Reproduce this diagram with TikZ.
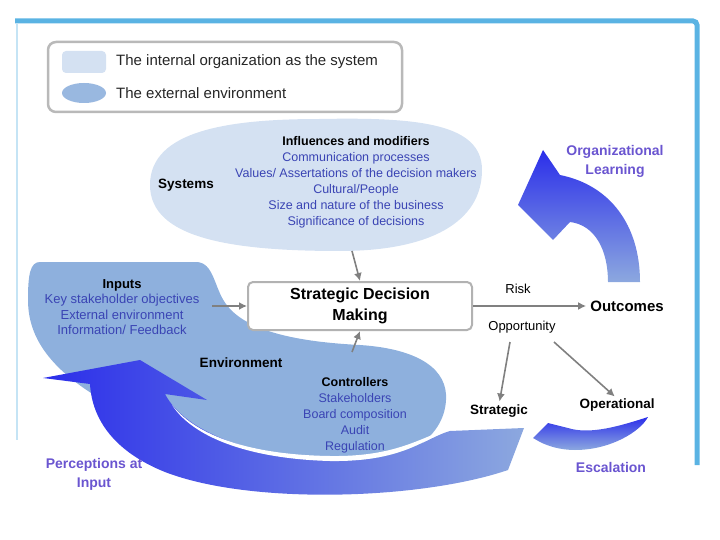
\documentclass[tikz,border=0pt]{standalone}
\usepackage{fontspec}
\setmainfont{Liberation Sans}
\usetikzlibrary{arrows.meta,shapes.geometric}
\definecolor{frameblue}{HTML}{5AB3E3}
\definecolor{lightsys}{HTML}{D4E1F2}
\definecolor{envblue}{HTML}{8EB0DD}
\definecolor{itemblue}{HTML}{3A44B4}
\definecolor{labelpurple}{HTML}{6A55D0}
\definecolor{arrowgray}{HTML}{808080}
\definecolor{strongblue}{HTML}{2B2EEA}
\definecolor{midblue}{HTML}{5F7FE6}
\definecolor{paleblue}{HTML}{8CA8DF}
\begin{document}
\begin{tikzpicture}[x=1pt,y=-1pt,
  every node/.style={inner sep=0pt},
  hdr/.style={font=\fontsize{13.5}{16}\selectfont\bfseries},
  items/.style={align=center, text=itemblue, font=\fontsize{12.5}{16}\selectfont},
  plain/.style={font=\fontsize{13}{15}\selectfont},
  plab/.style={text=labelpurple, font=\fontsize{14}{19}\selectfont\bfseries, align=center},
  conn/.style={draw=arrowgray, line width=1.6pt, -{Latex[length=8pt,width=8pt]}},
  swatch/.style={minimum width=44pt, minimum height=22pt},
]
\useasboundingbox (0,0) rectangle (720,540);
% frame
\draw[frameblue, line width=5pt, rounded corners=4pt] (15,21) -- (697,21) -- (697,465);
\draw[frameblue!35, line width=1.5pt] (17,24) -- (17,440);

% legend
\node[draw=gray!55, line width=2.5pt, rounded corners=8pt, fill=white,
      minimum width=354pt, minimum height=70pt] (legend) at (225,77) {};
\node[swatch, fill=lightsys, rounded corners=4pt] (sw1) at (84,62) {};
\node[swatch, fill=envblue!90!white, ellipse, minimum height=20pt] (sw2) at (84,93) {};
\node[anchor=west, font=\fontsize{15}{17}\selectfont, text=black!85] (lg1) at (116,62) {The internal organization as the system};
\node[anchor=west, font=\fontsize{15}{17}\selectfont, text=black!85] (lg2) at (116,93) {The external environment};

% internal organization ellipse
\fill[lightsys] (150,185) .. controls (150,130) and (230,119) .. (320,119)
  .. controls (420,117) and (482,124) .. (482,170)
  .. controls (482,222) and (430,251) .. (340,251)
  .. controls (230,251) and (150,238) .. (150,185) -- cycle;

% external environment blob
\fill[envblue] (40,262) -- (196,262) .. controls (214,262) and (214,288) .. (226,304)
  .. controls (246,332) and (300,342) .. (360,345)
  .. controls (420,349) and (448,370) .. (446,400)
  .. controls (444,440) and (400,468) .. (330,468)
  .. controls (250,468) and (175,440) .. (120,410)
  .. controls (60,378) and (28,345) .. (28,300)
  .. controls (28,275) and (30,262) .. (40,262) -- cycle;

% big curved arrow (perceptions at input)
\shade[left color=strongblue, middle color=midblue, right color=paleblue]
  (508,470) .. controls (420,500) and (250,505) .. (165,472)
  .. controls (115,452) and (92,420) .. (90,384)
  -- (43,378) -- (140,360) -- (207,400) -- (165,394)
  .. controls (185,432) and (250,456) .. (330,460)
  .. controls (400,464) and (425,438) .. (450,431)
  -- (524,428) -- cycle;
% white highlight between environment and arrow
\fill[white] (172,405) .. controls (200,440) and (260,455) .. (330,456)
  .. controls (395,457) and (420,438) .. (448,429)
  .. controls (425,440) and (400,462) .. (330,461)
  .. controls (255,459) and (195,440) .. (172,405) -- cycle;

% organizational learning arrow
\shade[top color=strongblue, bottom color=paleblue]
  (543,150) -- (560,175) .. controls (610,185) and (640,225) .. (640,282)
  -- (608,282) .. controls (608,250) and (595,225) .. (570,222)
  -- (553,240) -- (518,205) -- cycle;

% escalation arrow
\shade[top color=strongblue, bottom color=paleblue]
  (533,438) -- (548,423) -- (568,428) .. controls (590,435) and (620,426) .. (648,417)
  .. controls (640,432) and (610,450) .. (575,450)
  .. controls (560,450) and (548,446) .. (540,442) -- cycle;

% texts in the internal organization
\node[hdr] (systems) at (186,185) {Systems};
\node[items] (infl) at (356,182) {\textcolor{black}{\bfseries Influences and modifiers}\\
  Communication processes\\ Values/ Assertations of the decision makers\\
  Cultural/People\\ Size and nature of the business\\ Significance of decisions};

% texts in the environment
\node[items, font=\fontsize{13}{15.5}\selectfont] (inputs) at (122,307) {\textcolor{black}{\bfseries Inputs}\\
  Key stakeholder objectives\\ External environment\\ Information/ Feedback};
\node[hdr] (envlab) at (241,363) {Environment};
\node[items] (ctrl) at (355,415) {\textcolor{black}{\bfseries Controllers}\\
  Stakeholders\\ Board composition\\ Audit\\ Regulation};

% central box
\node[draw=gray!60, line width=2pt, rounded corners=5pt, fill=white,
      minimum width=224pt, minimum height=48pt, align=center,
      font=\fontsize{16}{21}\selectfont\bfseries] (box) at (360,306) {Strategic Decision\\Making};

% right side
\node[plain] (risk) at (518,289) {Risk};
\node[plain] (opp) at (522,327) {Opportunity};
\node[hdr, font=\fontsize{15}{17}\selectfont\bfseries] (outc) at (627,306) {Outcomes};
\node[hdr] (strat) at (499,411) {Strategic};
\node[hdr] (oper) at (617,405) {Operational};

% purple labels
\node[plab] (orgl) at (615,161) {Organizational\\Learning};
\node[plab] (perc) at (94,474) {Perceptions at\\Input};
\node[plab] (esc) at (611,467) {Escalation};

% connectors
\coordinate (ellB) at (352,251);
\coordinate (ctrlT) at (352,352);
\coordinate (inR) at (212,306);
\coordinate (oppL) at (510,342);
\coordinate (oppR) at (554,342);
\draw[conn] (ellB) -- (box.north);
\draw[conn] (ctrlT) -- (box.south);
\draw[conn] (inR) -- (box.west);
\draw[conn, shorten >=4pt] (box.east) -- (outc.west);
\draw[conn, shorten >=3pt] (oppL) -- (strat.north);
\draw[conn, shorten >=3pt] (oppR) -- (oper.north);
\end{tikzpicture}
\end{document}
